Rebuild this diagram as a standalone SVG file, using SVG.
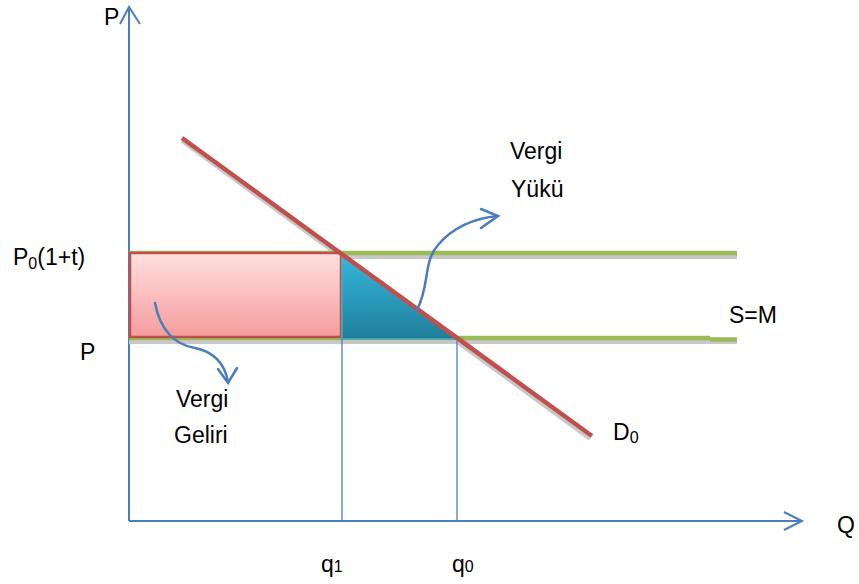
<svg xmlns="http://www.w3.org/2000/svg" width="859" height="584" viewBox="0 0 859 584">
<style>
.t{font-family:"Liberation Sans",Arial,sans-serif;font-size:23px;fill:#000}
.s{font-size:16px}
.ax{stroke:#4a7ebb;stroke-width:2;fill:none}
.thin{stroke:#4a7ebb;stroke-width:1.3;fill:none}
.cur{stroke:#4a7ebb;stroke-width:2.5;fill:none;stroke-linecap:round}
.sh{stroke:#c8c8c8;stroke-width:4;fill:none}
.gr{stroke:#9bbb59;stroke-width:4.5;fill:none}
.rd{stroke:#c0504d;stroke-width:4.5;fill:none}
</style>
<defs>
<linearGradient id="pk" x1="0" y1="0" x2="0" y2="1">
<stop offset="0" stop-color="#ffe0e0"/><stop offset="1" stop-color="#f59c9c"/>
</linearGradient>
<linearGradient id="bl" x1="0" y1="0" x2="0" y2="1">
<stop offset="0" stop-color="#34b9de"/><stop offset="1" stop-color="#207e9a"/>
</linearGradient>
</defs>
<g id="axes">
<line class="ax" x1="129" y1="8" x2="129" y2="521"/>
<polyline class="ax" points="120,24 129,7 140,24"/>
<line class="ax" x1="129" y1="521" x2="802" y2="521"/>
<polyline class="ax" points="784,512 802,521 784,530"/>
</g>
<g id="shadows">
<line class="sh" x1="129" y1="257" x2="737" y2="257"/>
<line class="sh" x1="129" y1="342" x2="737" y2="342"/>
<line class="sh" x1="182" y1="141" x2="590" y2="439"/>
</g>
<g id="supply-lines">
<line class="gr" x1="129" y1="253" x2="737" y2="253"/>
<line class="gr" x1="129" y1="338" x2="710" y2="338"/>
<line class="gr" x1="710" y1="339.5" x2="737" y2="339.5"/>
</g>
<g id="revenue-rect">
<rect x="130" y="253" width="211" height="84" fill="url(#pk)" stroke="#c0504d" stroke-width="2.5"/>
</g>
<g id="burden-triangle">
<polygon points="342,254 342,339 457,339" fill="url(#bl)" stroke="#4bacc6" stroke-width="1.5"/>
</g>
<g id="demand-line">
<line class="rd" x1="182" y1="138" x2="592" y2="436"/>
</g>
<g id="connectors">
<line class="thin" x1="342" y1="339" x2="342" y2="521"/>
<line class="thin" x1="457" y1="339" x2="457" y2="521"/>
<path class="cur" d="M417,310 C430,285 423,262 438,245 C452,228 474,218 498,216"/>
<polyline class="cur" points="481,209 498,216 481,228"/>
<path class="cur" d="M155,303 C160,330 175,345 195,348 C215,352 225,365 228,382"/>
<polyline class="cur" points="218,369 228,383 237,368"/>
</g>
<g id="labels">
<text class="t" x="104" y="25">P</text>
<text class="t" x="13" y="265">P<tspan class="s" dy="4">0</tspan><tspan dy="-4">(1+t)</tspan></text>
<text class="t" x="80" y="360">P</text>
<text class="t" x="176" y="407">Vergi</text>
<text class="t" x="174" y="443">Geliri</text>
<text class="t" x="510" y="159">Vergi</text>
<text class="t" x="511" y="197">Yükü</text>
<text class="t" x="729" y="323">S=M</text>
<text class="t" x="613" y="440">D<tspan class="s" dy="3">0</tspan></text>
<text class="t" x="321" y="572">q<tspan class="s">1</tspan></text>
<text class="t" x="452" y="572">q<tspan class="s">0</tspan></text>
<text class="t" x="837" y="533">Q</text>
</g>
</svg>
